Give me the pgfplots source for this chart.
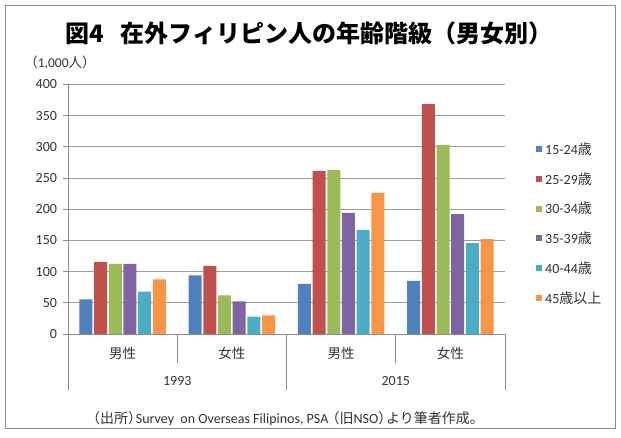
\documentclass[border=0pt]{standalone}
\usepackage{fontspec}
\setmainfont{Carlito}
\newfontfamily\cjk{Noto Sans CJK JP}
\usepackage{pgfplots}
\pgfplotsset{compat=1.18}
\definecolor{c1}{HTML}{4F81BD}
\definecolor{c2}{HTML}{C0504D}
\definecolor{c3}{HTML}{9BBB59}
\definecolor{c4}{HTML}{8064A2}
\definecolor{c5}{HTML}{4BACC6}
\definecolor{c6}{HTML}{F79646}
\definecolor{txt}{HTML}{333333}
\definecolor{axg}{HTML}{8C8C8C}
\begin{document}
\begin{tikzpicture}[x=1pt,y=1pt]
\useasboundingbox (0,0) rectangle (621,437);
\fill[white] (0,0) rectangle (621,437);
\draw[axg, line width=0.8pt] (5,9) rectangle (615,432);
\node[font=\cjk\bfseries\fontsize{24}{28}\selectfont, text=black] at (309,404) {図4\hspace{0.7em}在外フィリピン人の年齢階級（男女別）};
\node[font=\fontsize{13.5}{16}\selectfont, text=txt] at (60,374) {{\cjk （}1,000{\cjk 人）}};
\node[font=\fontsize{14}{16}\selectfont, text=txt] at (285,18) {{\cjk （出所）}\kern-0.45em Survey\ \ on Overseas Filipinos, PSA\kern-0.2em{\cjk （旧}NSO{\cjk ）}\kern-0.45em{\cjk より筆者作成。}};
\begin{axis}[
  at={(68pt,103pt)}, anchor=south west,
  scale only axis, width=437pt, height=249.7pt,
  xmin=-0.5, xmax=3.5, ymin=0, ymax=400,
  ytick={0,50,...,400},
  ymajorgrids, grid style={axg!85, line width=0.6pt},
  axis x line*=bottom, axis y line*=left,
  axis line style={axg, line width=0.6pt, -},
  xtick={0,1,2,3}, xticklabels={男性,女性,男性,女性},
  xticklabel style={font=\cjk\fontsize{13.5}{16}\selectfont, text=txt, yshift=-5pt},
  x tick style={draw=none},
  y tick style={axg, line width=0.6pt},
  tick align=outside, major tick length=5pt,
  yticklabel style={font=\fontsize{14}{16}\selectfont, text=txt, xshift=-2.5pt},
  /pgf/number format/assume math mode=true,
  ybar=1.7pt, bar width=13pt,
  legend image code/.code={\fill[#1] (0pt,-3pt) rectangle (6pt,3pt);},
  legend style={at={(1.071,0.4425)}, anchor=west, draw=none, fill=none,
    font=\fontsize{14}{16}\selectfont, text=txt, row sep=12.5pt, inner sep=0pt,
    nodes={inner xsep=3pt}},
  legend cell align=left,
  clip=false,
]
\addplot[fill=c1, draw=none] coordinates {(0,55.5) (1,93.9) (2,80.5) (3,85.3)};
\addlegendentry{15-24{\cjk 歳}}
\addplot[fill=c2, draw=none] coordinates {(0,115) (1,109.3) (2,261.3) (3,368.5)};
\addlegendentry{25-29{\cjk 歳}}
\addplot[fill=c3, draw=none] coordinates {(0,112.5) (1,61.9) (2,262.4) (3,303)};
\addlegendentry{30-34{\cjk 歳}}
\addplot[fill=c4, draw=none] coordinates {(0,112.5) (1,52.3) (2,194.1) (3,192)};
\addlegendentry{35-39{\cjk 歳}}
\addplot[fill=c5, draw=none] coordinates {(0,67.7) (1,27.7) (2,166.4) (3,145.6)};
\addlegendentry{40-44{\cjk 歳}}
\addplot[fill=c6, draw=none] coordinates {(0,87.5) (1,29.9) (2,226.1) (3,152)};
\addlegendentry{45{\cjk 歳以上}}
\draw[axg, line width=0.6pt] (axis cs:-0.5,0) -- ([yshift=-56pt]axis cs:-0.5,0);
\draw[axg, line width=0.6pt] (axis cs:0.5,0) -- ([yshift=-29pt]axis cs:0.5,0);
\draw[axg, line width=0.6pt] (axis cs:1.5,0) -- ([yshift=-56pt]axis cs:1.5,0);
\draw[axg, line width=0.6pt] (axis cs:2.5,0) -- ([yshift=-29pt]axis cs:2.5,0);
\draw[axg, line width=0.6pt] (axis cs:3.5,0) -- ([yshift=-56pt]axis cs:3.5,0);
\node[font=\fontsize{14}{16}\selectfont, text=txt] at ([yshift=-47pt]axis cs:0.5,0) {1993};
\node[font=\fontsize{14}{16}\selectfont, text=txt] at ([yshift=-47pt]axis cs:2.5,0) {2015};
\end{axis}
\end{tikzpicture}
\end{document}
